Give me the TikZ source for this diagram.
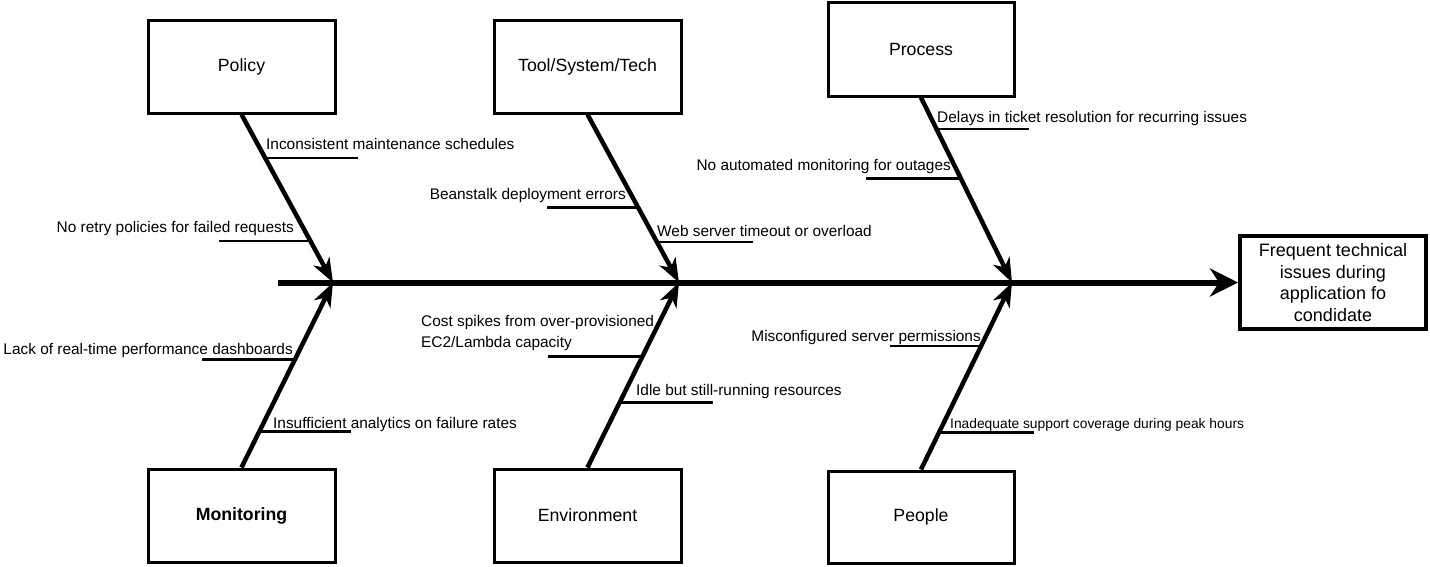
\documentclass[tikz,border=0pt]{standalone}
\usepackage{fontspec}
\setmainfont{Liberation Sans}
\usetikzlibrary{arrows.meta,calc}
\begin{document}
\begin{tikzpicture}[x=1pt,y=-1pt,
  catbox/.style={draw,line width=3pt,minimum width=187pt,minimum height=93pt,inner sep=0pt,
    font=\fontsize{17.7}{21}\selectfont},
  effectbox/.style={draw,line width=4pt,minimum width=186pt,minimum height=93pt,inner sep=0pt,
    align=center,font=\fontsize{18}{21.7}\selectfont},
  spine/.style={line width=6pt,-{Stealth[length=28pt,width=28pt,inset=9pt]}},
  bone/.style={line width=4.5pt,-{Stealth[length=24pt,width=18pt,inset=7pt]}},
  sub/.style={line width=2.5pt},
  lbl/.style={inner sep=0pt,font=\fontsize{15.4}{21.5}\selectfont},
  lblsmall/.style={inner sep=0pt,font=\fontsize{13.8}{16}\selectfont}]
\useasboundingbox (0,0) rectangle (1430,566);
% boxes
\node[catbox] (policy) at (241.5,66.5) {Policy};
\node[catbox] (tool) at (587.5,66.5) {Tool/System/Tech};
\node[catbox,minimum width=186pt,minimum height=94pt] (process) at (921,49) {Process};
\node[catbox] (monitoring) at (241.5,515.5) {\bfseries Monitoring};
\node[catbox] (environment) at (587.5,515.5) {Environment};
\node[catbox,minimum width=186pt,minimum height=92pt] (people) at (921,517) {People};
\node[effectbox] (effect) at (1333,282.5) {Frequent technical\\issues during\\application fo\\condidate};
% spine
\coordinate (s0) at (278,282.5);
\coordinate (P1) at (333,282.5);
\coordinate (P2) at (679,282.5);
\coordinate (P3) at (1012,282.5);
\draw[spine] (s0) -- (effect.west);
% bones
\draw[bone] (policy.south) -- (P1);
\draw[bone] (tool.south) -- (P2);
\draw[bone] (process.south) -- (P3);
\draw[bone] (monitoring.north) -- (P1);
\draw[bone] (environment.north) -- (P2);
\draw[bone] (people.north) -- (P3);
% sub-bone points
\coordinate (a1) at ($(policy.south)!0.259!(P1)$);
\coordinate (a2) at ($(policy.south)!0.753!(P1)$);
\coordinate (a3) at ($(tool.south)!0.553!(P2)$);
\coordinate (a4) at ($(tool.south)!0.759!(P2)$);
\coordinate (a5) at ($(process.south)!0.171!(P3)$);
\coordinate (a6) at ($(process.south)!0.4385!(P3)$);
\coordinate (a7) at ($(monitoring.north)!0.584!(P1)$);
\coordinate (a8) at ($(monitoring.north)!0.195!(P1)$);
\coordinate (a9) at ($(environment.north)!0.6!(P2)$);
\coordinate (a10) at ($(environment.north)!0.351!(P2)$);
\coordinate (a11) at ($(people.north)!0.66!(P3)$);
\coordinate (a12) at ($(people.north)!0.197!(P3)$);
\draw[sub] (a1) -- (a1 -| 358,0);
\draw[sub] (a2) -- (a2 -| 219,0);
\draw[sub] (a3) -- (a3 -| 547,0);
\draw[sub] (a4) -- (a4 -| 753,0);
\draw[sub] (a5) -- (a5 -| 1029,0);
\draw[sub] (a6) -- (a6 -| 866,0);
\draw[sub] (a7) -- (a7 -| 202,0);
\draw[sub] (a8) -- (a8 -| 351,0);
\draw[sub] (a9) -- (a9 -| 548,0);
\draw[sub] (a10) -- (a10 -| 713,0);
\draw[sub] (a11) -- (a11 -| 890,0);
\draw[sub] (a12) -- (a12 -| 1034,0);
% labels
\node[lbl,anchor=base west] (t1) at (266,149) {Inconsistent maintenance schedules};
\node[lbl,anchor=base east] (t2) at (294,232) {No retry policies for failed requests};
\node[lbl,anchor=base east] (t3) at (626,199) {Beanstalk deployment errors};
\node[lbl,anchor=base west] (t4) at (657,236) {Web server timeout or overload};
\node[lbl,anchor=base west] (t5) at (937,122) {Delays in ticket resolution for recurring issues};
\node[lbl,anchor=base east] (t6) at (951,170) {No automated monitoring for outages};
\node[lbl,anchor=base east] (t7) at (293,354) {Lack of real-time performance dashboards};
\node[lbl,anchor=base west] (t8) at (273,428) {Insufficient analytics on failure rates};
\node[lbl,anchor=base west,align=left] (t9) at (421,347.5) {Cost spikes from over-provisioned\\EC2/Lambda capacity};
\node[lbl,anchor=base west] (t10) at (636,395) {Idle but still-running resources};
\node[lbl,anchor=base east] (t11) at (981,341) {Misconfigured server permissions};
\node[lblsmall,anchor=base west] (t12) at (950,428) {Inadequate support coverage during peak hours};
\end{tikzpicture}
\end{document}
